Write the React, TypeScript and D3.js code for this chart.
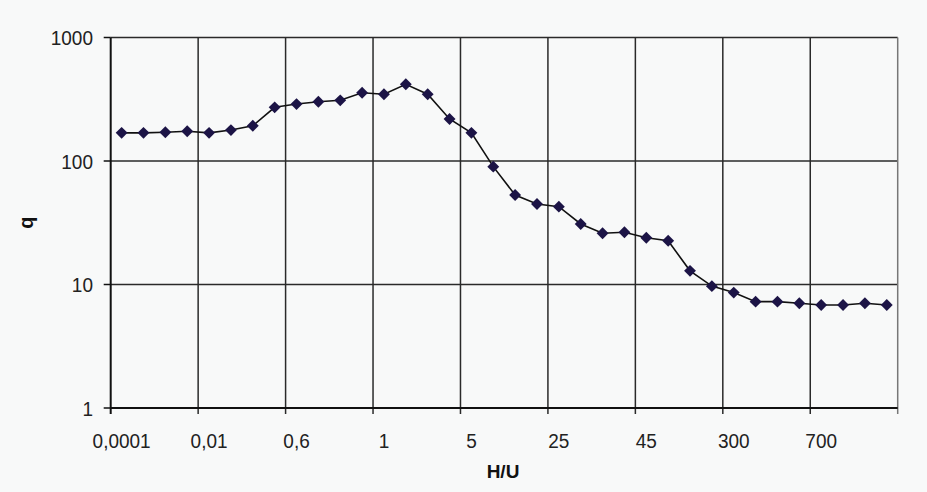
import React from "react";
import * as d3 from "d3";

// Series values (q), one per category
const qValues: number[] = [
  169, 169, 171, 174, 169, 178, 193, 272, 289, 302, 310, 357,
  347, 418, 347, 219, 169, 90, 53, 44.9, 42.7, 30.9, 26, 26.5,
  23.9, 22.6, 12.9, 9.7, 8.6, 7.26, 7.26, 7.05, 6.82, 6.82, 7.05, 6.82,
];
// Category tick labels (shown every 4th category)
const tickLabels: string[] = ["0,0001", "0,01", "0,6", "1", "5", "25", "45", "300", "700"];
const tickEvery = 4;
const yTicks: number[] = [1, 10, 100, 1000];
const xTitle = "H/U";
const yTitle = "q";

const W = 927;
const H = 492;
const left = 110.7;
const right = 897.7;
const top = 37.5;
const bottom = 408;
const font = "'Liberation Sans', Arial, sans-serif";

export default function App() {
  const idx = qValues.map((_, i) => i);
  const x = d3.scaleBand<number>().domain(idx).range([left, right]).padding(0);
  const y = d3.scaleLog().domain([1, 1000]).range([bottom, top]);
  const cx = (i: number) => (x(i) as number) + x.bandwidth() / 2;

  const line = d3
    .line<number>()
    .x((_, i) => cx(i))
    .y((d) => y(d));

  const diamond = d3.symbol().type(d3.symbolDiamond2).size(90)();
  const boundaries: number[] = [];
  for (let i = tickEvery; i <= qValues.length; i += tickEvery) boundaries.push(i);
  const bx = (i: number) => left + i * x.step();

  return (
    <svg
      width={W}
      height={H}
      style={{ position: "absolute", left: 0, top: 0, background: "#f8f9f9" }}
      fontFamily={font}
    >
      <rect x={0} y={0} width={W} height={H} fill="#f8f9f9" />
      {/* horizontal grid */}
      {yTicks.slice(1).map((t) => (
        <line key={"h" + t} x1={left} x2={right} y1={y(t)} y2={y(t)} stroke="#2a2a2a" strokeWidth={1.5} />
      ))}
      {/* vertical grid */}
      {boundaries.map((b) => (
        <line
          key={"v" + b}
          x1={bx(b)}
          x2={bx(b)}
          y1={top}
          y2={bottom + 6}
          stroke={b === qValues.length ? "#777" : "#2a2a2a"}
          strokeWidth={1.5}
        />
      ))}
      {/* axes */}
      <line x1={left} x2={left} y1={top} y2={bottom + 6} stroke="#111" strokeWidth={2} />
      <line x1={left} x2={right} y1={bottom} y2={bottom} stroke="#111" strokeWidth={2} />
      {/* y ticks */}
      {yTicks.map((t) => (
        <g key={"yt" + t}>
          <line x1={left - 7} x2={left} y1={y(t)} y2={y(t)} stroke="#111" strokeWidth={1.5} />
          <text
            transform={`translate(93, ${y(t)}) scale(1, 1.1)`}
            dy="0.36em"
            textAnchor="end"
            fontSize={19}
            fill="#222"
          >
            {t}
          </text>
        </g>
      ))}
      {/* x tick labels */}
      {tickLabels.map((lab, k) => (
        <text
          key={"xl" + k}
          transform={`translate(${cx(k * tickEvery)}, 448) scale(1, 1.1)`}
          textAnchor="middle"
          fontSize={19}
          fill="#222"
        >
          {lab}
        </text>
      ))}
      {/* titles */}
      <text x={503} y={478} textAnchor="middle" fontSize={19} fontWeight="bold" fill="#111">
        {xTitle}
      </text>
      <text
        transform={`translate(33, ${(top + bottom) / 2}) rotate(-90)`}
        textAnchor="middle"
        fontSize={20}
        fontWeight="bold"
        fill="#111"
      >
        {yTitle}
      </text>
      {/* series */}
      <path d={line(qValues) || ""} fill="none" stroke="#111" strokeWidth={1.6} />
      {qValues.map((v, i) => (
        <path key={"m" + i} d={diamond || ""} transform={`translate(${cx(i)},${y(v)})`} fill="#1c1446" />
      ))}
    </svg>
  );
}
